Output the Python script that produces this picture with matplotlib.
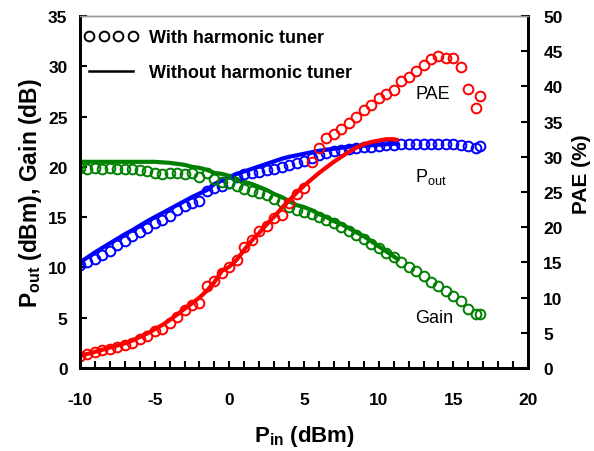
import numpy as np
import matplotlib
matplotlib.use('Agg')
import matplotlib.pyplot as plt
from matplotlib.lines import Line2D
from matplotlib.ticker import MultipleLocator

plt.rcParams['font.family'] = ['Liberation Sans', 'DejaVu Sans']
plt.rcParams['mathtext.fontset'] = 'custom'
plt.rcParams['mathtext.rm'] = 'Liberation Sans'
plt.rcParams['mathtext.bf'] = 'Liberation Sans:bold'
plt.rcParams['axes.unicode_minus'] = False

# with harmonic tuner (circles)
pin_tuner = [-10, -9.5, -9, -8.5, -8, -7.5, -7, -6.5, -6, -5.5, -5, -4.5, -4, -3.5,
             -3, -2.5, -2, -1.5, -1, -0.5, 0, 0.5, 1, 1.5, 2, 2.5, 3, 3.5, 4, 4.5,
             5, 5.5, 6, 6.5, 7, 7.5, 8, 8.5, 9, 9.5, 10, 10.5, 11, 11.5, 12, 12.5,
             13, 13.5, 14, 14.5, 15, 15.5, 16, 16.5, 16.75]
pout_tuner = [10.2, 10.5, 10.8, 11.2, 11.6, 12.2, 12.6, 13.1, 13.5, 13.9, 14.4, 14.7,
              15.1, 15.7, 16.1, 16.4, 16.6, 17.6, 17.9, 18.1, 18.4, 19.0, 19.3, 19.4,
              19.5, 19.7, 19.8, 20.0, 20.2, 20.4, 20.6, 20.9, 21.2, 21.4, 21.6, 21.7,
              21.8, 21.9, 22.0, 22.0, 22.1, 22.2, 22.2, 22.3, 22.3, 22.3, 22.3, 22.3,
              22.3, 22.3, 22.3, 22.2, 22.1, 21.9, 22.1]
gain_tuner = [19.9, 19.8, 19.9, 19.8, 19.9, 19.8, 19.8, 19.8, 19.7, 19.6, 19.4, 19.3,
              19.4, 19.4, 19.3, 19.4, 19.0, 19.4, 18.8, 18.5, 18.4, 18.1, 17.8, 17.6,
              17.4, 17.2, 16.8, 16.5, 16.0, 15.7, 15.5, 15.3, 15.0, 14.7, 14.4, 14.0,
              13.6, 13.2, 12.8, 12.3, 11.9, 11.4, 11.0, 10.5, 10.0, 9.6, 9.1, 8.6,
              8.2, 7.7, 7.2, 6.7, 5.9, 5.4, 5.4]
pae_tuner = [1.75, 2.0, 2.3, 2.5, 2.7, 3.0, 3.2, 3.6, 4.1, 4.6, 5.2, 5.6, 6.4, 7.2,
             8.2, 8.9, 9.2, 11.6, 12.3, 13.5, 14.3, 15.3, 17.2, 18.2, 19.4, 20.2,
             21.3, 21.8, 23.4, 24.7, 25.6, 29.3, 31.2, 32.6, 33.2, 34.0, 34.8, 35.7,
             36.6, 37.3, 38.4, 38.9, 39.5, 40.8, 41.3, 42.2, 43.1, 43.9, 44.3, 44.1,
             44.1, 42.7, 39.7, 36.9, 38.7]

# without harmonic tuner (lines)
pin_plain = [-10, -9.5, -9, -8.5, -8, -7.5, -7, -6.5, -6, -5.5, -5, -4.5, -4, -3.5,
             -3, -2.5, -2, -1.5, -1, -0.5, 0, 0.5, 1, 1.5, 2, 2.5, 3, 3.5, 4, 4.5,
             5, 5.5, 6, 6.5, 7, 7.5, 8, 8.5, 9, 9.5, 10, 10.5, 11, 11.2]
pout_plain = [10.5, 11.0, 11.5, 11.95, 12.4, 12.85, 13.3, 13.7, 14.15, 14.6, 15.0, 15.4,
              15.8, 16.2, 16.6, 17.0, 17.35, 17.7, 18.3, 18.65, 19.0, 19.3, 19.55, 19.8,
              20.05, 20.3, 20.55, 20.8, 21.0, 21.15, 21.3, 21.45, 21.6, 21.7, 21.8, 21.9,
              22.0, 22.05, 22.1, 22.15, 22.2, 22.25, 22.3, 22.3]
gain_plain = [20.5, 20.5, 20.5, 20.5, 20.5, 20.5, 20.5, 20.5, 20.5, 20.5, 20.5, 20.45,
              20.4, 20.3, 20.2, 20.0, 19.9, 19.7, 19.4, 19.3, 19.1, 18.8, 18.5, 18.3,
              18.0, 17.7, 17.3, 17.0, 16.6, 16.2, 16.0, 15.7, 15.3, 15.0, 14.6, 14.3,
              13.9, 13.5, 13.1, 12.6, 12.1, 11.6, 11.1, 10.9]
pae_plain = [1.8, 2.0, 2.3, 2.6, 2.9, 3.2, 3.5, 3.9, 4.4, 4.9, 5.5, 6.1, 6.8, 7.6,
             8.4, 9.2, 10.0, 11.0, 12.2, 13.8, 14.4, 15.4, 16.8, 18.1, 19.2, 20.4,
             21.5, 22.7, 23.8, 24.9, 25.9, 26.8, 27.7, 28.5, 29.3, 30.0, 30.7, 31.3,
             31.8, 32.1, 32.3, 32.5, 32.5, 32.4]

blue = '#0000ff'
green = '#008000'
red = '#ff0000'

fig = plt.figure(figsize=(5.94, 4.52), dpi=100)
ax = fig.add_axes([0.1347, 0.1836, 0.7543, 0.7788])
ax2 = ax.twinx()

mk = dict(marker='o', linestyle='none', markersize=7, markerfacecolor='none',
          markeredgewidth=1.4)
ax.plot(pin_plain, pout_plain, color=blue, lw=3)
ax.plot(pin_plain, gain_plain, color=green, lw=3)
ax.plot(pin_tuner, pout_tuner, color=blue, **mk)
ax.plot(pin_tuner, gain_tuner, color=green, **mk)
ax2.plot(pin_plain, pae_plain, color=red, lw=3)
ax2.plot(pin_tuner, pae_tuner, color=red, **mk)

ax.set_xlim(-10, 20)
ax.set_ylim(0, 35)
ax2.set_ylim(0, 50)
ax.xaxis.set_major_locator(MultipleLocator(5))
ax.xaxis.set_minor_locator(MultipleLocator(1))
ax.yaxis.set_major_locator(MultipleLocator(5))
ax2.yaxis.set_major_locator(MultipleLocator(5))

for a in (ax, ax2):
    a.tick_params(direction='in', length=5, width=1.5, labelsize=12.5)
    a.tick_params(which='minor', direction='in', length=5, width=1.5)
    for lab in a.get_xticklabels() + a.get_yticklabels():
        lab.set_fontweight('bold')
    for s in ('left', 'right', 'bottom'):
        a.spines[s].set_linewidth(2)
    a.spines['top'].set_color('#999999')
    a.spines['top'].set_linewidth(1)
ax.tick_params(axis='x', pad=17)
ax.tick_params(axis='y', pad=9)
ax2.tick_params(axis='y', pad=11)

ax.set_xlabel(r'P$_{\mathbf{in}}$ (dBm)', fontsize=16, fontweight='bold', labelpad=12)
ax.set_ylabel(r'P$_{\mathbf{out}}$ (dBm), Gain (dB)', fontsize=16.5, fontweight='bold',
              labelpad=3)
ax2.set_ylabel('PAE (%)', fontsize=15, fontweight='bold')
ax2.yaxis.set_label_coords(1.098, 0.554)

ax.text(12.45, 27.3, 'PAE', fontsize=13, va='center')
ax.text(12.45, 19.1, r'P$_{\mathrm{out}}$', fontsize=13, va='center')
ax.text(12.45, 5.0, 'Gain', fontsize=13, va='center')

handles = [Line2D([], [], color='black', marker='o', linestyle='none', markersize=7,
                  markerfacecolor='none', markeredgewidth=1.4),
           Line2D([], [], color='black', lw=1.8)]
ax.legend(handles, ['With harmonic tuner', 'Without harmonic tuner'], loc='upper left',
          bbox_to_anchor=(0.009, 0.962), numpoints=4, frameon=False,
          prop={'weight': 'bold', 'size': 13}, handlelength=3.0, handletextpad=0.6,
          borderaxespad=0.0, labelspacing=1.0, borderpad=0.0)

fig.savefig('out.png', dpi=100)
